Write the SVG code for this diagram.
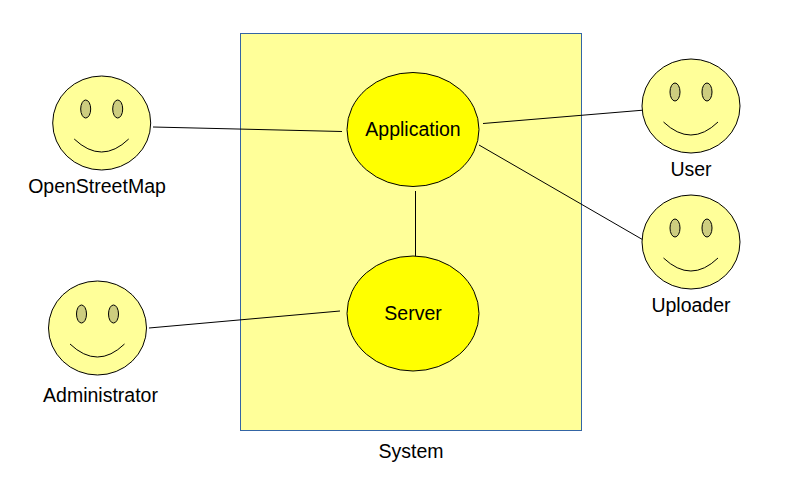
<svg xmlns="http://www.w3.org/2000/svg" width="798" height="486" viewBox="0 0 798 486">
<style>
text{font-family:"Liberation Sans",Arial,sans-serif;font-size:19.500px;fill:#000;text-anchor:middle}
.face{fill:#ffff99;stroke:#000;stroke-width:1}
.eye{fill:#cdcd7f;stroke:#000;stroke-width:1}
.smile{fill:none;stroke:#000;stroke-width:1}
.uc{fill:#ffff00;stroke:#000;stroke-width:1}
.conn line{stroke:#000;stroke-width:1}
</style>
<defs>
<g id="smiley">
<ellipse class="face" cx="0" cy="0" rx="49" ry="47"/>
<ellipse class="eye" cx="-16" cy="-14" rx="5" ry="9"/>
<ellipse class="eye" cx="16" cy="-14" rx="5" ry="9"/>
<path class="smile" d="M-27.500 16Q0 42 27 16"/>
</g>
</defs>
<g id="system">
<rect x="240.500" y="33.500" width="341" height="397" fill="#ffff99" stroke="#3465a4" stroke-width="1"/>
<text x="411" y="458">System</text>
</g>
<g id="connectors" class="conn">
<line x1="153" y1="127" x2="342" y2="131.500"/>
<line x1="483" y1="123.500" x2="645" y2="110"/>
<line x1="479" y1="145" x2="645" y2="241"/>
<line x1="415.500" y1="191" x2="415.500" y2="257"/>
<line x1="149" y1="328" x2="340" y2="311"/>
</g>
<g id="application">
<ellipse class="uc" cx="413" cy="129.500" rx="66" ry="57"/>
<text x="413" y="136">Application</text>
</g>
<g id="server">
<ellipse class="uc" cx="413" cy="313.500" rx="66" ry="57.500"/>
<text x="413" y="320">Server</text>
</g>
<g id="openstreetmap">
<use href="#smiley" x="101.700" y="123"/>
<text x="97" y="193">OpenStreetMap</text>
</g>
<g id="administrator">
<use href="#smiley" x="97.500" y="328"/>
<text x="100.500" y="402">Administrator</text>
</g>
<g id="user">
<use href="#smiley" x="691" y="106"/>
<text x="691" y="176">User</text>
</g>
<g id="uploader">
<use href="#smiley" x="691" y="242"/>
<text x="691" y="312">Uploader</text>
</g>
</svg>
